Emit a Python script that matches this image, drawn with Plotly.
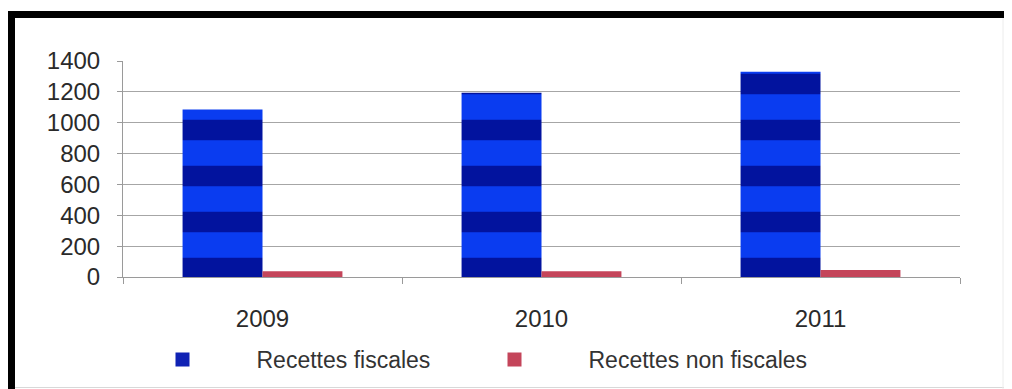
import plotly.graph_objects as go

years = ["2009", "2010", "2011"]
recettes_fiscales = [1085, 1195, 1330]
recettes_non_fiscales = [38, 38, 45]
y_ticks = [0, 200, 400, 600, 800, 1000, 1200, 1400]

# the page adds an 8px body margin, so figure coordinates = page coordinates - 8
W, H = 1012, 389
L, R, T, B = 115, 60, 53, 120
pw, ph = W - L - R, H - T - B

def px(x):
    return (x - L) / pw

def py(y):
    return (H - B - y) / ph

FONT = "Liberation Sans"
BLUE_KEY = "#1022b4"
RED = "#c4455a"

fig = go.Figure()
fig.add_trace(go.Bar(
    x=years, y=recettes_fiscales, name="Recettes fiscales", showlegend=False,
    marker=dict(color="#0a3cf0", line=dict(width=0),
                pattern=dict(shape="-", fgcolor="#00088a", bgcolor="#0a3cf0",
                             size=46, solidity=0.45, fgopacity=0.8)),
))
fig.add_trace(go.Bar(
    x=years, y=recettes_non_fiscales, name="Recettes non fiscales", showlegend=False,
    marker=dict(color=RED, line=dict(width=0)),
))
# legend keys (solid squares, as in the original)
fig.add_trace(go.Scatter(x=[None], y=[None], mode="markers", name="Recettes fiscales",
                         marker=dict(symbol="square", size=14, color=BLUE_KEY),
                         legend="legend"))
fig.add_trace(go.Scatter(x=[None], y=[None], mode="markers", name="Recettes non fiscales",
                         marker=dict(symbol="square", size=14, color=RED),
                         legend="legend2"))

leg_common = dict(orientation="h", xanchor="left", yanchor="middle",
                  font=dict(size=23, color="#333333"), itemwidth=138,
                  bgcolor="rgba(0,0,0,0)")

fig.update_layout(
    width=W, height=H,
    margin=dict(l=L, r=R, t=T, b=B, autoexpand=False),
    paper_bgcolor="white", plot_bgcolor="white",
    barmode="group", bargap=0.427, bargroupgap=0,
    font=dict(family=FONT, size=24, color="#2a2a2a"),
    showlegend=True,
    legend=dict(x=px(100.5), y=py(351.5), **leg_common),
    legend2=dict(x=px(432.5), y=py(351.5), **leg_common),
    xaxis=dict(showline=True, linecolor="#9a9a9a", linewidth=1,
               ticks="outside", tickson="boundaries", ticklen=6, tickcolor="#9a9a9a",
               ticklabelstandoff=20, showgrid=False, fixedrange=True),
    yaxis=dict(range=[0, 1400], tickvals=y_ticks, showgrid=True, gridcolor="#a6a6a6",
               gridwidth=1, showline=True, linecolor="#9a9a9a", linewidth=1,
               ticks="outside", ticklen=5, tickcolor="#9a9a9a", ticklabelstandoff=12,
               zeroline=False, fixedrange=True),
    shapes=[
        dict(type="line", xref="paper", yref="paper", x0=px(0), x1=px(1012),
             y0=py(6.5), y1=py(6.5), line=dict(color="black", width=7)),
        dict(type="line", xref="paper", yref="paper", x0=px(3.5), x1=px(3.5),
             y0=py(3), y1=py(389), line=dict(color="black", width=7)),
        dict(type="line", xref="paper", yref="paper", x0=px(7), x1=px(1012),
             y0=py(379.5), y1=py(379.5), line=dict(color="#d8d8d8", width=1)),
        dict(type="line", xref="paper", yref="paper", x0=px(995), x1=px(995),
             y0=py(10), y1=py(389), line=dict(color="#ececec", width=1)),
    ],
)

fig.write_html("out.html")
